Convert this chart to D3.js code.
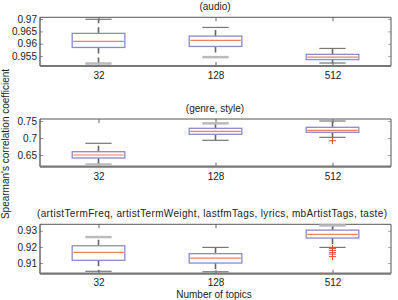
<!DOCTYPE html>
<html>
<head>
<meta charset="utf-8">
<script src="https://cdn.jsdelivr.net/npm/d3@7"></script>
<style>
  body { margin: 0; background: #fff; }
  text { font-family: "Liberation Sans", Arial, sans-serif; fill: #222; }
</style>
</head>
<body>
<script>
var width = 398, height = 300;

var categories = ['32', '128', '512'];

var titles = [
    '(audio)',
    '(genre, style)',
    '(artistTermFreq, artistTermWeight, lastfmTags, lyrics, mbArtistTags, taste)'
];

// y limits of each subplot
var y_limits = [[0.951, 0.9707], [0.6156, 0.7559], [0.9034, 0.934]];

var y_ticks = [[0.955, 0.96, 0.965, 0.97], [0.65, 0.7, 0.75], [0.91, 0.92, 0.93]];

// box stats per category: lower whisker, q1, median, q3, upper whisker
var audio_stats = [
    { lo: 0.9520, q1: 0.9585, med: 0.9610, q3: 0.9642, hi: 0.9699 },
    { lo: 0.9546, q1: 0.9589, med: 0.9614, q3: 0.9631, hi: 0.9666 },
    { lo: 0.9522, q1: 0.9536, med: 0.9546, q3: 0.9557, hi: 0.9581 }
];
var genre_stats = [
    { lo: 0.6221, q1: 0.6412, med: 0.6500, q3: 0.6597, hi: 0.6844 },
    { lo: 0.6932, q1: 0.7109, med: 0.7197, q3: 0.7285, hi: 0.7432 },
    { lo: 0.7020, q1: 0.7168, med: 0.7226, q3: 0.7315, hi: 0.7500 }
];
var all_stats = [
    { lo: 0.9049, q1: 0.9117, med: 0.9166, q3: 0.9207, hi: 0.9261 },
    { lo: 0.9046, q1: 0.9100, med: 0.9131, q3: 0.9158, hi: 0.9197 },
    { lo: 0.9197, q1: 0.9255, med: 0.9278, q3: 0.9304, hi: 0.9333 }
];

var audio_outliers = [[], [], []];
var genre_outliers = [[], [], [0.692]];
var all_outliers = [[], [], [0.9190, 0.9178, 0.9165, 0.9155, 0.9140]];

var stats = [audio_stats, genre_stats, all_stats];
var outliers = [audio_outliers, genre_outliers, all_outliers];

// whisker ends that render as light grey bars
var grey_caps = ['0-0-lo', '0-1-lo', '1-0-lo', '1-1-hi', '2-0-hi', '2-2-hi'];

var ax_left = 40, ax_right = 391;
var panel_rows = [{ top: 17.3, bottom: 66 }, { top: 119, bottom: 166.7 }, { top: 224.3, bottom: 273.7 }];
var title_len = [null, null, 350];

var svg = d3.select('body').append('svg')
    .attr('width', width)
    .attr('height', height);

var x = d3.scalePoint()
    .domain(categories)
    .range([ax_left, ax_right])
    .padding(0.5);

var unit = (ax_right - ax_left) / 3;
var box_w = unit * 0.45;
var cap_w = box_w / 2;

panel_rows.forEach(function(row, p) {
    var y = d3.scaleLinear().domain(y_limits[p]).range([row.bottom, row.top]);
    var g = svg.append('g').attr('class', 'panel');

    // y ticks left (labels + inward ticks)
    var yl = g.append('g')
        .attr('transform', `translate(${ax_left},0)`)
        .call(d3.axisLeft(y).tickValues(y_ticks[p]).tickSizeInner(-3).tickSizeOuter(0).tickPadding(3)
            .tickFormat(d3.format('')));
    yl.select('.domain').remove();
    yl.selectAll('line').attr('stroke', '#999');
    yl.selectAll('text').style('font-size', '10px').attr('fill', '#222');

    var yr = g.append('g')
        .attr('transform', `translate(${ax_right},0)`)
        .call(d3.axisRight(y).tickValues(y_ticks[p]).tickSizeInner(-3).tickSizeOuter(0).tickFormat(''));
    yr.select('.domain').remove();
    yr.selectAll('line').attr('stroke', '#aaa');

    // x ticks bottom and top
    var xb = g.append('g')
        .attr('transform', `translate(0,${row.bottom})`)
        .call(d3.axisBottom(x).tickSizeInner(-4).tickSizeOuter(0).tickPadding(p === 2 ? 5 : 6));
    xb.select('.domain').remove();
    xb.selectAll('line').attr('stroke', '#666');
    xb.selectAll('text').style('font-size', '10px').attr('fill', '#222');

    var xt = g.append('g')
        .attr('transform', `translate(0,${row.top})`)
        .call(d3.axisTop(x).tickSizeInner(-4).tickSizeOuter(0).tickFormat(''));
    xt.select('.domain').remove();
    xt.selectAll('line').attr('stroke', '#666');

    // axes frame
    g.append('line').attr('x1', ax_left).attr('x2', ax_right).attr('y1', row.top).attr('y2', row.top)
        .attr('stroke', '#555').attr('stroke-width', 1);
    g.append('line').attr('x1', ax_right).attr('x2', ax_right).attr('y1', row.top).attr('y2', row.bottom)
        .attr('stroke', '#555').attr('stroke-width', 1);
    g.append('line').attr('x1', ax_left).attr('x2', ax_left).attr('y1', row.top).attr('y2', row.bottom)
        .attr('stroke', '#444').attr('stroke-width', 1.2);
    g.append('line').attr('x1', ax_left).attr('x2', ax_right).attr('y1', row.bottom).attr('y2', row.bottom)
        .attr('stroke', '#777').attr('stroke-width', 2.2);

    var boxes = g.selectAll('.box')
        .data(stats[p])
        .enter()
        .append('g')
        .attr('class', 'box');

    // whiskers
    boxes.append('line')
        .attr('x1', function(d, i) { return x(categories[i]); })
        .attr('x2', function(d, i) { return x(categories[i]); })
        .attr('y1', function(d) { return y(d.q3); })
        .attr('y2', function(d) { return y(d.hi); })
        .attr('stroke', '#666').attr('stroke-width', 1.6).attr('stroke-dasharray', '6,4');
    boxes.append('line')
        .attr('x1', function(d, i) { return x(categories[i]); })
        .attr('x2', function(d, i) { return x(categories[i]); })
        .attr('y1', function(d) { return y(d.q1); })
        .attr('y2', function(d) { return y(d.lo); })
        .attr('stroke', '#666').attr('stroke-width', 1.6).attr('stroke-dasharray', '6,4');

    // caps
    ['lo', 'hi'].forEach(function(k) {
        boxes.append('line')
            .attr('x1', function(d, i) { return x(categories[i]) - cap_w / 2; })
            .attr('x2', function(d, i) { return x(categories[i]) + cap_w / 2; })
            .attr('y1', function(d) { return y(d[k]); })
            .attr('y2', function(d) { return y(d[k]); })
            .attr('stroke', function(d, i) { return grey_caps.indexOf(p + '-' + i + '-' + k) >= 0 ? '#bbb' : '#777'; })
            .attr('stroke-width', function(d, i) { return grey_caps.indexOf(p + '-' + i + '-' + k) >= 0 ? 2.5 : 1.2; });
    });

    // box
    boxes.append('rect')
        .attr('x', function(d, i) { return x(categories[i]) - box_w / 2; })
        .attr('width', box_w)
        .attr('y', function(d) { return y(d.q3); })
        .attr('height', function(d) { return y(d.q1) - y(d.q3); })
        .attr('fill', '#fff')
        .attr('stroke', '#8a8acc')
        .attr('stroke-width', 1.3);

    // median
    boxes.append('line')
        .attr('x1', function(d, i) { return x(categories[i]) - box_w / 2 + 1; })
        .attr('x2', function(d, i) { return x(categories[i]) + box_w / 2 - 1; })
        .attr('y1', function(d) { return y(d.med); })
        .attr('y2', function(d) { return y(d.med); })
        .attr('stroke', '#f0805a')
        .attr('stroke-width', 1.2);

    // outliers
    outliers[p].forEach(function(vals, i) {
        g.selectAll('.out' + i)
            .data(vals)
            .enter()
            .append('path')
            .attr('d', function(v) {
                var cx = x(categories[i]), cy = y(v);
                return `M${cx - 3.5},${cy}H${cx + 3.5}M${cx},${cy - 3.5}V${cy + 3.5}`;
            })
            .attr('stroke', '#f04a3a')
            .attr('stroke-width', 1);
    });

    // title
    var t = g.append('text')
        .attr('x', 215)
        .attr('y', row.top - 7)
        .attr('text-anchor', 'middle')
        .style('font-size', '10px')
        .text(titles[p]);
    if (title_len[p]) {
        t.attr('textLength', title_len[p]).attr('lengthAdjust', 'spacing').attr('x', 212);
    }
});

svg.append('text')
    .attr('x', 214)
    .attr('y', 298)
    .attr('text-anchor', 'middle')
    .style('font-size', '10px')
    .text('Number of topics');

svg.append('text')
    .attr('transform', 'translate(9,144) rotate(-90)')
    .attr('text-anchor', 'middle')
    .style('font-size', '10px')
    .text("Spearman's correlation coefficient");
</script>
</body>
</html>
